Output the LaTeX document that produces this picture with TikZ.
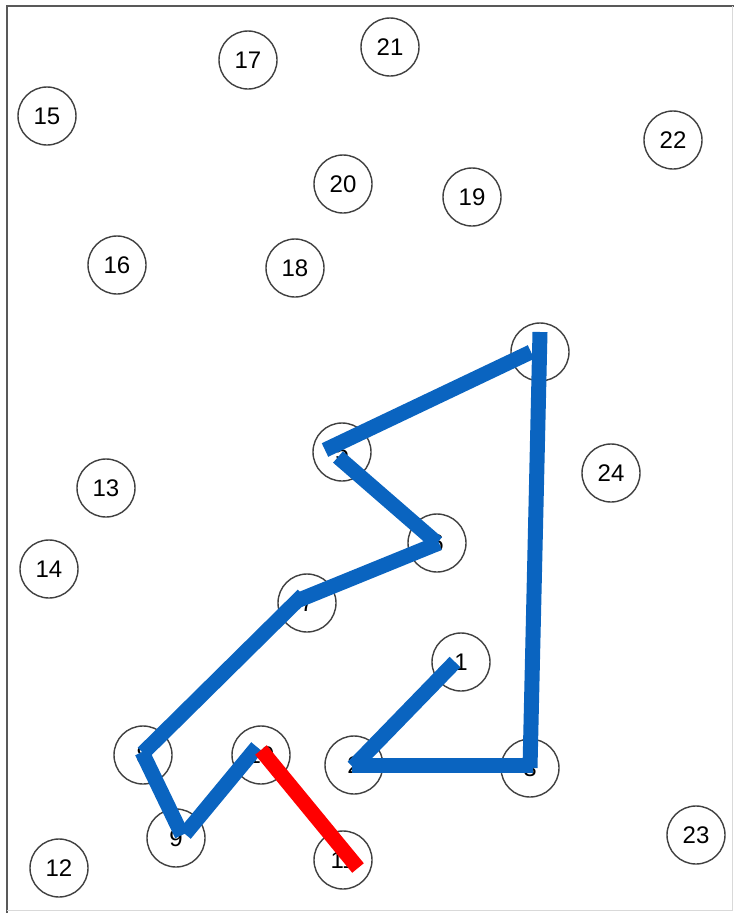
\documentclass[tikz,border=0pt]{standalone}
\usepackage{fontspec}
\setmainfont{Liberation Sans}
\usetikzlibrary{calc}
\definecolor{pathblue}{HTML}{0A64C0}
\definecolor{pathred}{HTML}{FF0000}
\begin{document}
\begin{tikzpicture}[x=1pt,y=-1pt,
  city/.style={circle,draw=black!75,line width=1.4pt,minimum size=58pt,inner sep=0pt,
    font=\fontsize{24}{26}\selectfont},
  tourseg/.style={draw=pathblue,line width=15pt,line cap=butt},
  lastseg/.style={draw=pathred,line width=15pt,line cap=butt}]
\useasboundingbox (0,0) rectangle (734,913);
\fill[white] (0,0) rectangle (734,913);
\draw[black!65,line width=2pt] (7,913) -- (7,6) -- (734,6);
\draw[black!15,line width=1pt] (732,6) -- (732,910) -- (7,910);
% cities
\node[city] (n1) at (461,662) {1};
\node[city] (n2) at (354,765) {2};
\node[city] (n3) at (530,768) {3};
\node[city] (n4) at (540,352) {4};
\node[city] (n5) at (342,452) {5};
\node[city] (n6) at (437,543) {6};
\node[city] (n7) at (307,603) {7};
\node[city] (n8) at (143,755) {8};
\node[city] (n9) at (176,838) {9};
\node[city] (n10) at (261,755) {10};
\node[city] (n11) at (343,860) {11};
\node[city] (n12) at (59,868) {12};
\node[city] (n13) at (106,488) {13};
\node[city] (n14) at (49,569) {14};
\node[city] (n15) at (47,116) {15};
\node[city] (n16) at (117,265) {16};
\node[city] (n17) at (248,60) {17};
\node[city] (n18) at (295,268) {18};
\node[city] (n19) at (472,197) {19};
\node[city] (n20) at (343,184) {20};
\node[city] (n21) at (390,47) {21};
\node[city] (n22) at (673,140) {22};
\node[city] (n23) at (696,835) {23};
\node[city] (n24) at (611,473) {24};
% tour
\draw[tourseg] ($(n1)+(-6,0)$) -- ($(n2)+(-1,2)$);
\draw[tourseg] ($(n2)+(-2,0)$) -- ($(n3)+(3,-3)$);
\draw[tourseg] ($(n3)+(0,0)$) -- ($(n4)+(0,-20)$);
\draw[tourseg] ($(n4)+(-9,0)$) -- ($(n5)+(-17,-2)$);
\draw[tourseg] ($(n5)+(-4,5)$) -- ($(n6)+(0,0)$);
\draw[tourseg] ($(n6)+(2,0)$) -- ($(n7)+(-8,-3)$);
\draw[tourseg] ($(n7)+(-4,-8)$) -- ($(n8)+(0,-2)$);
\draw[tourseg] ($(n8)+(-1,-3)$) -- ($(n9)+(6,-3)$);
\draw[tourseg] ($(n9)+(9,-4)$) -- ($(n10)+(-4,-8)$);
\draw[lastseg] ($(n10)+(0,-5)$) -- ($(n11)+(15,8)$);
\end{tikzpicture}
\end{document}
